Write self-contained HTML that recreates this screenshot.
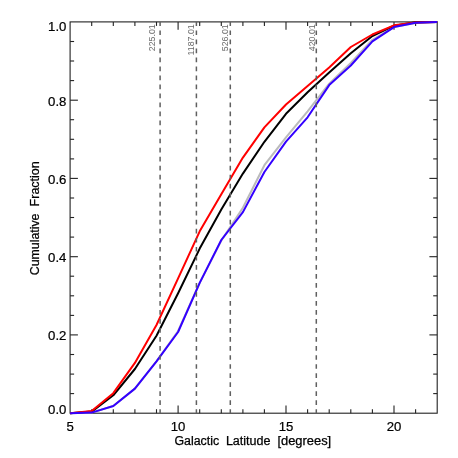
<!DOCTYPE html><html><head><meta charset="utf-8"><style>html,body{margin:0;padding:0;background:#fff}body{width:458px;height:458px;overflow:hidden}svg{display:block;will-change:transform}text{font-family:"Liberation Sans",sans-serif}</style></head><body>
<svg width="458" height="458" viewBox="0 0 458 458">
<rect width="458" height="458" fill="#fff"/>
<rect x="70.1" y="21.9" width="367.1" height="391.3" fill="none" stroke="#222" stroke-width="1.1"/>
<line x1="91.7" y1="413.2" x2="91.7" y2="409.2" stroke="#222" stroke-width="1.1"/>
<line x1="91.7" y1="21.9" x2="91.7" y2="25.9" stroke="#222" stroke-width="1.1"/>
<line x1="113.3" y1="413.2" x2="113.3" y2="409.2" stroke="#222" stroke-width="1.1"/>
<line x1="113.3" y1="21.9" x2="113.3" y2="25.9" stroke="#222" stroke-width="1.1"/>
<line x1="134.9" y1="413.2" x2="134.9" y2="409.2" stroke="#222" stroke-width="1.1"/>
<line x1="134.9" y1="21.9" x2="134.9" y2="25.9" stroke="#222" stroke-width="1.1"/>
<line x1="156.5" y1="413.2" x2="156.5" y2="409.2" stroke="#222" stroke-width="1.1"/>
<line x1="156.5" y1="21.9" x2="156.5" y2="25.9" stroke="#222" stroke-width="1.1"/>
<line x1="178.1" y1="413.2" x2="178.1" y2="405.4" stroke="#222" stroke-width="1.1"/>
<line x1="178.1" y1="21.9" x2="178.1" y2="29.7" stroke="#222" stroke-width="1.1"/>
<line x1="199.7" y1="413.2" x2="199.7" y2="409.2" stroke="#222" stroke-width="1.1"/>
<line x1="199.7" y1="21.9" x2="199.7" y2="25.9" stroke="#222" stroke-width="1.1"/>
<line x1="221.3" y1="413.2" x2="221.3" y2="409.2" stroke="#222" stroke-width="1.1"/>
<line x1="221.3" y1="21.9" x2="221.3" y2="25.9" stroke="#222" stroke-width="1.1"/>
<line x1="242.9" y1="413.2" x2="242.9" y2="409.2" stroke="#222" stroke-width="1.1"/>
<line x1="242.9" y1="21.9" x2="242.9" y2="25.9" stroke="#222" stroke-width="1.1"/>
<line x1="264.4" y1="413.2" x2="264.4" y2="409.2" stroke="#222" stroke-width="1.1"/>
<line x1="264.4" y1="21.9" x2="264.4" y2="25.9" stroke="#222" stroke-width="1.1"/>
<line x1="286.0" y1="413.2" x2="286.0" y2="405.4" stroke="#222" stroke-width="1.1"/>
<line x1="286.0" y1="21.9" x2="286.0" y2="29.7" stroke="#222" stroke-width="1.1"/>
<line x1="307.6" y1="413.2" x2="307.6" y2="409.2" stroke="#222" stroke-width="1.1"/>
<line x1="307.6" y1="21.9" x2="307.6" y2="25.9" stroke="#222" stroke-width="1.1"/>
<line x1="329.2" y1="413.2" x2="329.2" y2="409.2" stroke="#222" stroke-width="1.1"/>
<line x1="329.2" y1="21.9" x2="329.2" y2="25.9" stroke="#222" stroke-width="1.1"/>
<line x1="350.8" y1="413.2" x2="350.8" y2="409.2" stroke="#222" stroke-width="1.1"/>
<line x1="350.8" y1="21.9" x2="350.8" y2="25.9" stroke="#222" stroke-width="1.1"/>
<line x1="372.4" y1="413.2" x2="372.4" y2="409.2" stroke="#222" stroke-width="1.1"/>
<line x1="372.4" y1="21.9" x2="372.4" y2="25.9" stroke="#222" stroke-width="1.1"/>
<line x1="394.0" y1="413.2" x2="394.0" y2="405.4" stroke="#222" stroke-width="1.1"/>
<line x1="394.0" y1="21.9" x2="394.0" y2="29.7" stroke="#222" stroke-width="1.1"/>
<line x1="415.6" y1="413.2" x2="415.6" y2="409.2" stroke="#222" stroke-width="1.1"/>
<line x1="415.6" y1="21.9" x2="415.6" y2="25.9" stroke="#222" stroke-width="1.1"/>
<line x1="70.1" y1="393.6" x2="74.1" y2="393.6" stroke="#222" stroke-width="1.1"/>
<line x1="437.2" y1="393.6" x2="433.2" y2="393.6" stroke="#222" stroke-width="1.1"/>
<line x1="70.1" y1="374.1" x2="74.1" y2="374.1" stroke="#222" stroke-width="1.1"/>
<line x1="437.2" y1="374.1" x2="433.2" y2="374.1" stroke="#222" stroke-width="1.1"/>
<line x1="70.1" y1="354.5" x2="74.1" y2="354.5" stroke="#222" stroke-width="1.1"/>
<line x1="437.2" y1="354.5" x2="433.2" y2="354.5" stroke="#222" stroke-width="1.1"/>
<line x1="70.1" y1="334.9" x2="77.89999999999999" y2="334.9" stroke="#222" stroke-width="1.1"/>
<line x1="437.2" y1="334.9" x2="429.4" y2="334.9" stroke="#222" stroke-width="1.1"/>
<line x1="70.1" y1="315.4" x2="74.1" y2="315.4" stroke="#222" stroke-width="1.1"/>
<line x1="437.2" y1="315.4" x2="433.2" y2="315.4" stroke="#222" stroke-width="1.1"/>
<line x1="70.1" y1="295.8" x2="74.1" y2="295.8" stroke="#222" stroke-width="1.1"/>
<line x1="437.2" y1="295.8" x2="433.2" y2="295.8" stroke="#222" stroke-width="1.1"/>
<line x1="70.1" y1="276.2" x2="74.1" y2="276.2" stroke="#222" stroke-width="1.1"/>
<line x1="437.2" y1="276.2" x2="433.2" y2="276.2" stroke="#222" stroke-width="1.1"/>
<line x1="70.1" y1="256.7" x2="77.89999999999999" y2="256.7" stroke="#222" stroke-width="1.1"/>
<line x1="437.2" y1="256.7" x2="429.4" y2="256.7" stroke="#222" stroke-width="1.1"/>
<line x1="70.1" y1="237.1" x2="74.1" y2="237.1" stroke="#222" stroke-width="1.1"/>
<line x1="437.2" y1="237.1" x2="433.2" y2="237.1" stroke="#222" stroke-width="1.1"/>
<line x1="70.1" y1="217.5" x2="74.1" y2="217.5" stroke="#222" stroke-width="1.1"/>
<line x1="437.2" y1="217.5" x2="433.2" y2="217.5" stroke="#222" stroke-width="1.1"/>
<line x1="70.1" y1="198.0" x2="74.1" y2="198.0" stroke="#222" stroke-width="1.1"/>
<line x1="437.2" y1="198.0" x2="433.2" y2="198.0" stroke="#222" stroke-width="1.1"/>
<line x1="70.1" y1="178.4" x2="77.89999999999999" y2="178.4" stroke="#222" stroke-width="1.1"/>
<line x1="437.2" y1="178.4" x2="429.4" y2="178.4" stroke="#222" stroke-width="1.1"/>
<line x1="70.1" y1="158.9" x2="74.1" y2="158.9" stroke="#222" stroke-width="1.1"/>
<line x1="437.2" y1="158.9" x2="433.2" y2="158.9" stroke="#222" stroke-width="1.1"/>
<line x1="70.1" y1="139.3" x2="74.1" y2="139.3" stroke="#222" stroke-width="1.1"/>
<line x1="437.2" y1="139.3" x2="433.2" y2="139.3" stroke="#222" stroke-width="1.1"/>
<line x1="70.1" y1="119.7" x2="74.1" y2="119.7" stroke="#222" stroke-width="1.1"/>
<line x1="437.2" y1="119.7" x2="433.2" y2="119.7" stroke="#222" stroke-width="1.1"/>
<line x1="70.1" y1="100.2" x2="77.89999999999999" y2="100.2" stroke="#222" stroke-width="1.1"/>
<line x1="437.2" y1="100.2" x2="429.4" y2="100.2" stroke="#222" stroke-width="1.1"/>
<line x1="70.1" y1="80.6" x2="74.1" y2="80.6" stroke="#222" stroke-width="1.1"/>
<line x1="437.2" y1="80.6" x2="433.2" y2="80.6" stroke="#222" stroke-width="1.1"/>
<line x1="70.1" y1="61.0" x2="74.1" y2="61.0" stroke="#222" stroke-width="1.1"/>
<line x1="437.2" y1="61.0" x2="433.2" y2="61.0" stroke="#222" stroke-width="1.1"/>
<line x1="70.1" y1="41.5" x2="74.1" y2="41.5" stroke="#222" stroke-width="1.1"/>
<line x1="437.2" y1="41.5" x2="433.2" y2="41.5" stroke="#222" stroke-width="1.1"/>
<polyline points="70.1,413.2 91.7,412.6 113.3,406.0 134.9,388.6 156.5,361.4 178.1,331.0 199.7,282.9 221.3,240.6 242.9,207.8 264.4,165.2 286.0,137.3 307.6,111.3 329.2,83.6 350.8,63.0 372.4,39.8 394.0,27.1 415.6,22.9 437.2,22.0" fill="none" stroke="#bbbbbb" stroke-width="2" stroke-linejoin="round" stroke-linecap="butt"/>
<polyline points="70.1,413.2 91.7,411.6 113.3,395.3 134.9,369.0 156.5,335.7 178.1,293.2 199.7,248.6 221.3,209.5 242.9,173.6 264.4,141.8 286.0,113.8 307.6,92.3 329.2,72.4 350.8,53.3 372.4,36.0 394.0,25.7 415.6,22.2 437.2,22.0" fill="none" stroke="#000" stroke-width="2" stroke-linejoin="round" stroke-linecap="butt"/>
<polyline points="70.1,413.2 91.7,411.1 113.3,393.2 134.9,362.9 156.5,325.0 178.1,278.4 199.7,231.3 221.3,194.3 242.9,157.6 264.4,127.4 286.0,104.5 307.6,85.9 329.2,67.5 350.8,47.0 372.4,34.5 394.0,25.3 415.6,22.4 437.2,22.0" fill="none" stroke="#ff0000" stroke-width="2" stroke-linejoin="round" stroke-linecap="butt"/>
<polyline points="70.1,413.2 91.7,412.6 113.3,406.0 134.9,388.6 156.5,361.4 178.1,332.0 199.7,282.9 221.3,240.0 242.9,212.1 264.4,172.0 286.0,141.6 307.6,117.3 329.2,85.1 350.8,65.5 372.4,41.3 394.0,27.1 415.6,22.7 437.2,22.0" fill="none" stroke="#3300ff" stroke-width="2" stroke-linejoin="round" stroke-linecap="butt"/>
<line x1="160.1" y1="21.9" x2="160.1" y2="413.2" stroke="#606060" stroke-width="1.5" stroke-dasharray="4.7 4.32" stroke-dashoffset="0.5"/>
<text transform="translate(155.2,24.3) rotate(-90)" text-anchor="end" font-size="8.8" fill="#6a6a6a">225.01</text>
<line x1="196.4" y1="21.9" x2="196.4" y2="413.2" stroke="#606060" stroke-width="1.5" stroke-dasharray="4.7 4.32" stroke-dashoffset="0.5"/>
<text transform="translate(193.5,24.3) rotate(-90)" text-anchor="end" font-size="8.8" fill="#6a6a6a">1187.01</text>
<line x1="230.3" y1="21.9" x2="230.3" y2="413.2" stroke="#606060" stroke-width="1.5" stroke-dasharray="4.7 4.32" stroke-dashoffset="0.5"/>
<text transform="translate(228.4,24.3) rotate(-90)" text-anchor="end" font-size="8.8" fill="#6a6a6a">526.01</text>
<line x1="316.3" y1="21.9" x2="316.3" y2="413.2" stroke="#606060" stroke-width="1.5" stroke-dasharray="4.7 4.32" stroke-dashoffset="0.5"/>
<text transform="translate(315.2,24.3) rotate(-90)" text-anchor="end" font-size="8.8" fill="#6a6a6a">420.01</text>
<text transform="translate(70.1,430.7) scale(1.08,1)" text-anchor="middle" font-size="12.2" fill="#000" stroke="#000" stroke-width="0.2">5</text>
<text transform="translate(178.1,430.7) scale(1.08,1)" text-anchor="middle" font-size="12.2" fill="#000" stroke="#000" stroke-width="0.2">10</text>
<text transform="translate(286.0,430.7) scale(1.08,1)" text-anchor="middle" font-size="12.2" fill="#000" stroke="#000" stroke-width="0.2">15</text>
<text transform="translate(394.0,430.7) scale(1.08,1)" text-anchor="middle" font-size="12.2" fill="#000" stroke="#000" stroke-width="0.2">20</text>
<text transform="translate(66.4,413.8) scale(1.1,1)" text-anchor="end" font-size="12" fill="#000" stroke="#000" stroke-width="0.2">0.0</text>
<text transform="translate(66.4,340.3) scale(1.1,1)" text-anchor="end" font-size="12" fill="#000" stroke="#000" stroke-width="0.2">0.2</text>
<text transform="translate(66.4,262.1) scale(1.1,1)" text-anchor="end" font-size="12" fill="#000" stroke="#000" stroke-width="0.2">0.4</text>
<text transform="translate(66.4,183.8) scale(1.1,1)" text-anchor="end" font-size="12" fill="#000" stroke="#000" stroke-width="0.2">0.6</text>
<text transform="translate(66.4,105.6) scale(1.1,1)" text-anchor="end" font-size="12" fill="#000" stroke="#000" stroke-width="0.2">0.8</text>
<text transform="translate(66.4,31.0) scale(1.1,1)" text-anchor="end" font-size="12" fill="#000" stroke="#000" stroke-width="0.2">1.0</text>
<text x="174.5" y="445.2" font-size="12" fill="#000" stroke="#000" stroke-width="0.25" textLength="44.6" lengthAdjust="spacingAndGlyphs">Galactic</text>
<text x="225.9" y="445.2" font-size="12" fill="#000" stroke="#000" stroke-width="0.25" textLength="44.6" lengthAdjust="spacingAndGlyphs">Latitude</text>
<text x="277.4" y="445.2" font-size="12" fill="#000" stroke="#000" stroke-width="0.25" textLength="53.8" lengthAdjust="spacingAndGlyphs">[degrees]</text>
<text transform="translate(38.8,275.2) rotate(-90)" font-size="12" fill="#000" stroke="#000" stroke-width="0.25" textLength="61.6" lengthAdjust="spacingAndGlyphs">Cumulative</text>
<text transform="translate(38.8,206.4) rotate(-90)" font-size="12" fill="#000" stroke="#000" stroke-width="0.25" textLength="45.1" lengthAdjust="spacingAndGlyphs">Fraction</text>
</svg></body></html>
